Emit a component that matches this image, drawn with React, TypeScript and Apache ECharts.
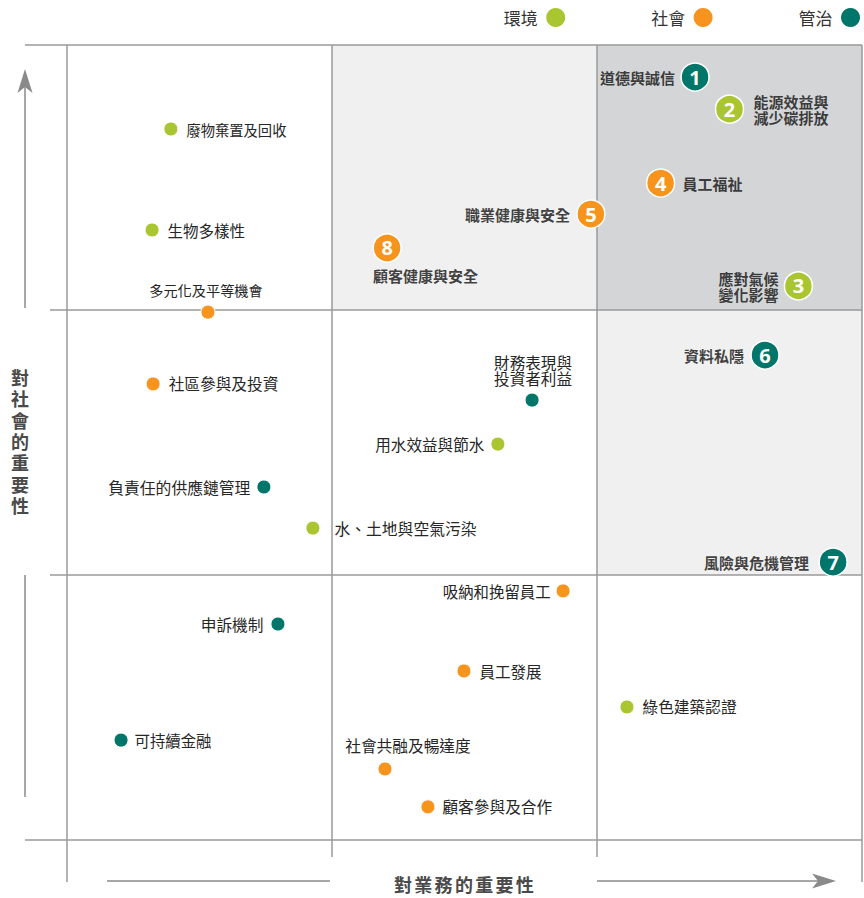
import React, { useEffect, useRef } from 'react';
import * as echarts from 'echarts';

// ---------- data ----------
const pillars = ['環境', '社會', '管治'];
const pillarColors = ['#a9c52f', '#f7941d', '#00766a'];

const topics = [
  '道德與誠信',
  '能源效益與\n減少碳排放',
  '應對氣候\n變化影響',
  '員工福祉',
  '職業健康與安全',
  '資料私隱',
  '風險與危機管理',
  '顧客健康與安全',
  '廢物棄置及回收',
  '生物多樣性',
  '多元化及平等機會',
  '社區參與及投資',
  '財務表現與\n投資者利益',
  '用水效益與節水',
  '負責任的供應鏈管理',
  '水、土地與空氣污染',
  '吸納和挽留員工',
  '申訴機制',
  '員工發展',
  '綠色建築認證',
  '可持續金融',
  '社會共融及暢達度',
  '顧客參與及合作',
];
// importance to business (x) and to society (y), scale 0-3
const businessImportance = [
  2.37, 2.5, 2.76, 2.24, 1.977, 2.634, 2.891, 1.208,
  0.392, 0.321, 0.532, 0.325, 1.755, 1.626, 0.743, 0.928,
  1.872, 0.796, 1.498, 2.113, 0.204, 1.2, 1.362,
];
const socialImportance = [
  2.879, 2.758, 2.091, 2.479, 2.362, 1.83, 1.049, 2.234,
  2.683, 2.302, 1.992, 1.721, 1.66, 1.494, 1.332, 1.177,
  0.94, 0.815, 0.638, 0.502, 0.377, 0.268, 0.125,
];
// 0 環境, 1 社會, 2 管治
const topicPillar = [2, 0, 0, 1, 1, 2, 2, 1, 0, 0, 1, 1, 2, 0, 2, 0, 1, 2, 1, 0, 2, 1, 1];
const priorityRank = [1, 2, 3, 4, 5, 6, 7, 8, 0, 0, 0, 0, 0, 0, 0, 0, 0, 0, 0, 0, 0, 0, 0];

const shadedCellX = [1, 2, 2];
const shadedCellY = [2, 2, 1];
const shadedCellTone = ['light', 'dark', 'light'];

const xAxisTitle = '對業務的重要性';
const yAxisTitle = '對社會的重要性';

// ---------- styles ----------
const FONT = '"Noto Sans CJK TC", "Noto Sans CJK SC", sans-serif';
const LINE = '#9a9a9a';
const ARROW = '#8a8a8a';
const toneColor: Record<string, string> = { light: '#f0f0f0', dark: '#d4d5d7' };

// label placement per topic: [position, distance, dx, dy, fontSize]
const labelPlacement: any[] = [
  ['left', 6, 0, 0, 15],
  ['right', 10, 0, 0, 15],
  ['left', 6, 0, 1, 15],
  ['right', 8, 0, 0, 15],
  ['left', 7, 0, 0, 15],
  ['left', 7, 0, 0, 15],
  ['left', 10, 0, 0, 15],
  [[0, 42], 0, 0, 0, 15],
  ['right', 8, 0, 0, 14.3],
  ['right', 8, 0, 0, 15.5],
  ['top', 7, -2, 0, 14.2],
  ['right', 8, 0, 0, 15.7],
  ['top', 7, 1, 0, 15.6],
  ['left', 6, 0, 0, 15.6],
  ['left', 6, 0, 0, 15.8],
  ['right', 14, 0, 0, 15.8],
  ['left', 5, 0, 0, 15.4],
  ['left', 7, 0, 0, 15.7],
  ['right', 8, 0, 0, 15.5],
  ['right', 8, 0, 0, 15.7],
  ['right', 6, 0, 0, 15.4],
  ['top', 8, 23, 0, 15.7],
  ['right', 7, 0, 0, 15.7],
];

const GRID = { left: 67, top: 45, width: 795, height: 795 };

function nameLabel(i: number, bold: boolean) {
  const [pos, dist, dx, dy, fs] = labelPlacement[i];
  const lbl: any = {
    show: true,
    formatter: topics[i],
    fontFamily: FONT,
    fontSize: fs,
    fontWeight: bold ? 'bold' : 'normal',
    color: bold ? '#111' : '#262626',
    lineHeight: 16,
    position: pos,
    distance: dist,
    offset: [dx, dy],
  };
  if (Array.isArray(pos)) {
    lbl.align = 'left';
    lbl.verticalAlign = 'middle';
  }
  return lbl;
}

export default function App() {
  const ref = useRef<HTMLDivElement>(null);
  useEffect(() => {
    if (!ref.current) return;
    document.body.style.margin = '0';
    const chart = echarts.init(ref.current, null, { renderer: 'svg' });

    const pillarSeries = pillars.map((p, pi) => ({
      type: 'scatter',
      name: p,
      z: 3,
      itemStyle: { color: pillarColors[pi], opacity: 1 },
      emphasis: { disabled: true },
      data: topics
        .map((t, i) => ({ t, i }))
        .filter(({ i }) => topicPillar[i] === pi)
        .map(({ t, i }) => {
          const ranked = priorityRank[i] > 0;
          return {
            name: t,
            value: [businessImportance[i], socialImportance[i]],
            symbolSize: ranked ? 28 : 14,
            itemStyle: { borderColor: '#fff', borderWidth: ranked ? 1.5 : 1 },
            label: ranked
              ? {
                  show: true,
                  position: 'inside',
                  formatter: String(priorityRank[i]),
                  color: '#fff',
                  fontFamily: '"Open Sans", sans-serif',
                  fontWeight: 'bold',
                  fontSize: 20,
                }
              : nameLabel(i, false),
          };
        }),
    }));

    const rankedNames = {
      type: 'scatter',
      name: 'rankedNames',
      z: 3,
      silent: true,
      symbolSize: 28,
      itemStyle: { color: 'rgba(0,0,0,0)' },
      data: topics
        .map((t, i) => ({ t, i }))
        .filter(({ i }) => priorityRank[i] > 0)
        .map(({ t, i }) => ({
          name: t,
          value: [businessImportance[i], socialImportance[i]],
          label: nameLabel(i, true),
        })),
    };

    const shading = {
      type: 'custom',
      name: 'shading',
      z: 1,
      silent: true,
      data: shadedCellX.map((x, k) => [x, shadedCellY[k]]),
      renderItem: (params: any, api: any) => {
        const x = api.value(0);
        const y = api.value(1);
        const a = api.coord([x, y + 1]);
        const b = api.coord([x + 1, y]);
        return {
          type: 'rect',
          shape: { x: a[0], y: a[1], width: b[0] - a[0], height: b[1] - a[1] },
          style: { fill: toneColor[shadedCellTone[params.dataIndex]] },
        };
      },
    };

    const L = GRID.left;
    const T = GRID.top;
    const R = GRID.left + GRID.width;
    const B = GRID.top + GRID.height;
    const cw = GRID.width / 3;
    const ch = GRID.height / 3;
    const ln = (x1: number, y1: number, x2: number, y2: number, color = LINE, w = 1.5) => ({
      type: 'line',
      silent: true,
      shape: { x1, y1, x2, y2 },
      style: { stroke: color, lineWidth: w },
    });

    const graphics: any[] = [
      ln(25, T, L, T),
      ln(50, T + ch, L, T + ch),
      ln(50, T + 2 * ch, L, T + 2 * ch),
      ln(25, B, L, B),
      ln(L, B, L, B + 42),
      ln(L + cw, B, L + cw, B + 17),
      ln(L + 2 * cw, B, L + 2 * cw, B + 17),
      ln(R, B, R, B + 42),
      // y arrow
      ln(25, 86, 25, T + ch - 2, ARROW, 1.5),
      ln(25, T + 2 * ch, 25, 797, ARROW, 1.5),
      {
        type: 'polygon',
        silent: true,
        shape: { points: [[25, 69], [32.5, 93], [25, 87], [17.5, 93]] },
        style: { fill: ARROW },
      },
      // x arrow
      ln(107, 881, L + cw - 2, 881, ARROW, 1.5),
      ln(L + 2 * cw, 881, 820, 881, ARROW, 1.5),
      {
        type: 'polygon',
        silent: true,
        shape: { points: [[836, 881], [812, 873.5], [818, 881], [812, 888.5]] },
        style: { fill: ARROW },
      },
    ];
    Array.from(yAxisTitle).forEach((c, k) => {
      graphics.push({
        type: 'text',
        silent: true,
        x: 20,
        y: 377 + k * 21.3,
        style: {
          text: c,
          fontFamily: FONT,
          fontSize: 18,
          fontWeight: 'bold',
          fill: '#4a4a4a',
          align: 'center',
          verticalAlign: 'middle',
        },
      });
    });
    Array.from(xAxisTitle).forEach((c, k) => {
      graphics.push({
        type: 'text',
        silent: true,
        x: 403 + k * 20.3,
        y: 884,
        style: {
          text: c,
          fontFamily: FONT,
          fontSize: 18,
          fontWeight: 'bold',
          fill: '#4a4a4a',
          align: 'center',
          verticalAlign: 'middle',
        },
      });
    });

    const axisCommon = {
      type: 'value',
      min: 0,
      max: 3,
      interval: 1,
      z: 2,
      axisLine: { show: false },
      axisTick: { show: false },
      axisLabel: { show: false },
      splitLine: { show: true, lineStyle: { color: LINE, width: 1.5 } },
    };

    chart.setOption({
      animation: false,
      backgroundColor: '#fff',
      grid: { ...GRID, containLabel: false },
      xAxis: { ...axisCommon },
      yAxis: { ...axisCommon },
      legend: {
        data: pillars,
        right: 4,
        top: 8,
        padding: 0,
        itemGap: 86,
        itemWidth: 19,
        itemHeight: 19,
        icon: 'circle',
        align: 'right',
        selectedMode: false,
        formatter: (n: string) => n + '\u2009',
        textStyle: { fontFamily: FONT, fontSize: 17, color: '#333' },
      },
      tooltip: { show: false },
      series: [shading, ...pillarSeries, rankedNames],
      graphic: graphics,
    });

    return () => chart.dispose();
  }, []);

  return <div ref={ref} style={{ width: 864, height: 898, background: '#fff' }} />;
}
